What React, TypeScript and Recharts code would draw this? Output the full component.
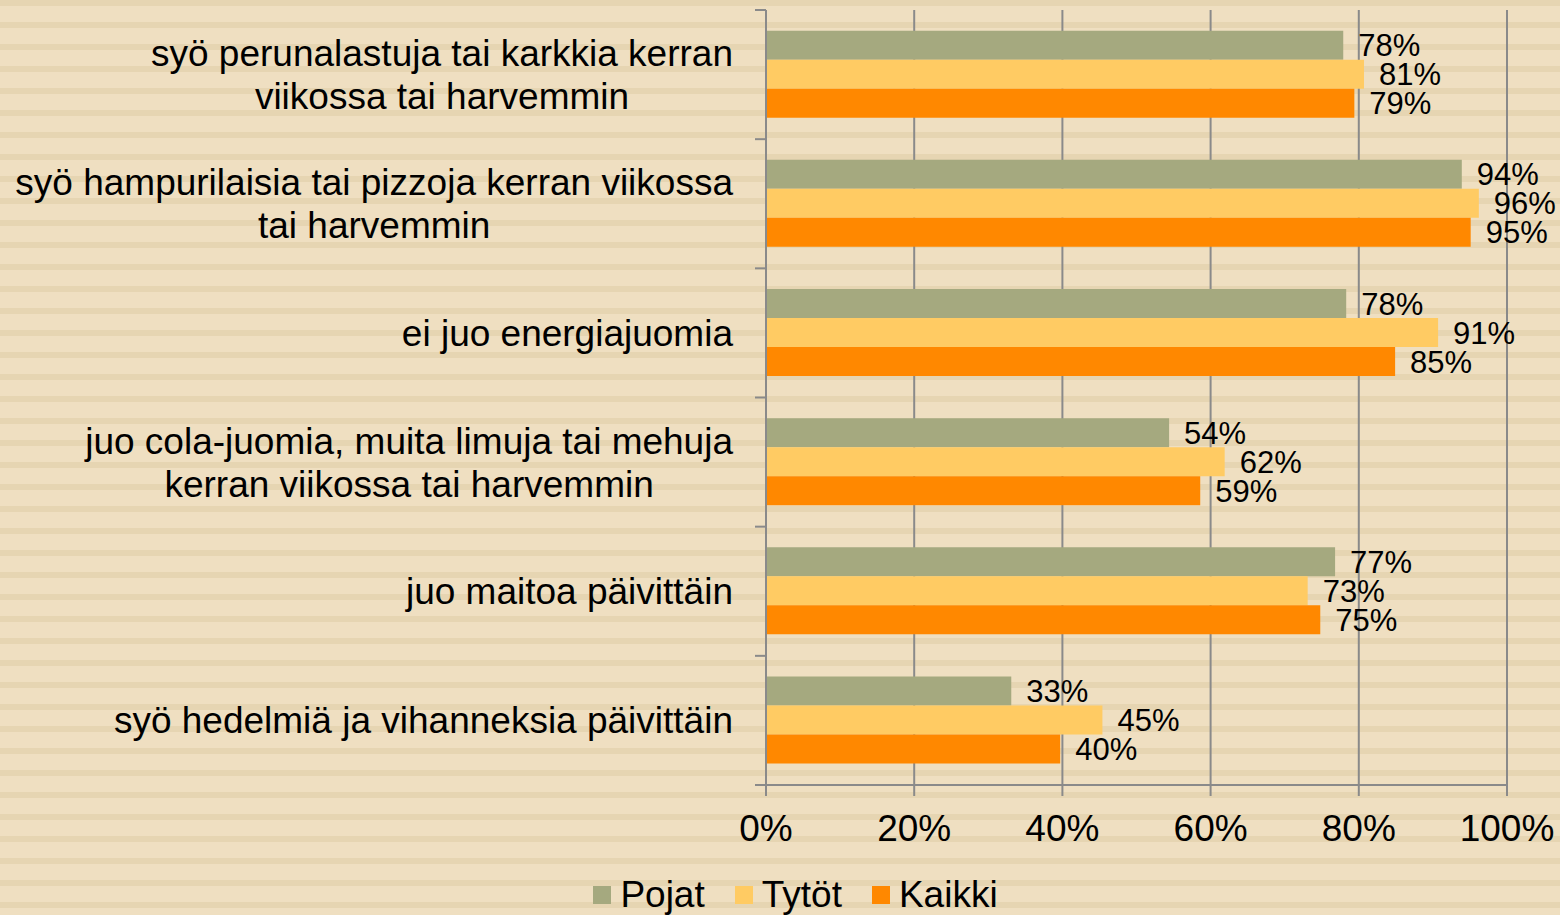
import React from "react";
import {
  BarChart,
  Bar,
  XAxis,
  YAxis,
  CartesianGrid,
  Legend,
  LabelList
} from "recharts";

const categories = [
  "syö perunalastuja tai karkkia kerran\nviikossa tai harvemmin",
  "syö hampurilaisia tai pizzoja kerran viikossa\ntai harvemmin",
  "ei juo energiajuomia",
  "juo cola-juomia, muita limuja tai mehuja\nkerran viikossa tai harvemmin",
  "juo maitoa päivittäin",
  "syö hedelmiä ja vihanneksia päivittäin"
];

const pojat = [77.9, 93.9, 78.3, 54.4, 76.8, 33.1];
const tytot = [80.7, 96.2, 90.7, 61.9, 73.1, 45.4];
const kaikki = [79.4, 95.1, 84.9, 58.6, 74.8, 39.7];

const xTicks = [0, 20, 40, 60, 80, 100];

const series = [
  { key: "pojat", name: "Pojat", color: "#A5A97F" },
  { key: "tytot", name: "Tytöt", color: "#FFCB63" },
  { key: "kaikki", name: "Kaikki", color: "#FF8800" }
];

const data = categories.map((c, i) => ({
  name: c,
  pojat: pojat[i],
  tytot: tytot[i],
  kaikki: kaikki[i]
}));

const W = 1560;
const H = 915;
const FONT = "'Liberation Sans', Arial, sans-serif";
const AXIS = "#8A8A8A";
const margin = { top: 10, right: 53, left: 0, bottom: 0 };
const X_AXIS_H = 90;
const LEGEND_H = 40;
const plotH = H - margin.top - margin.bottom - X_AXIS_H - LEGEND_H;
const band = plotH / categories.length;

let canvasCtx: CanvasRenderingContext2D | null = null;
const measure = (s: string) => {
  if (!canvasCtx) {
    canvasCtx = document.createElement("canvas").getContext("2d");
  }
  if (!canvasCtx) return s.length * 18;
  canvasCtx.font = `37px ${FONT}`;
  return canvasCtx.measureText(s).width;
};

const YTick = (props: any) => {
  const { x, y, payload, index } = props;
  const lines = String(payload.value).split("\n");
  const widest = Math.max(...lines.map(measure));
  const cx = x - widest / 2;
  const lh = 43;
  const startY = y - ((lines.length - 1) * lh) / 2;
  const axisX = x + 33;
  return (
    <g>
      <line x1={axisX - 11} x2={axisX} y1={y - band / 2} y2={y - band / 2} stroke={AXIS} strokeWidth={2} />
      {index === categories.length - 1 && (
        <line x1={axisX - 11} x2={axisX} y1={y + band / 2} y2={y + band / 2} stroke={AXIS} strokeWidth={2} />
      )}
      {lines.map((l, i) => (
        <text
          key={i}
          x={lines.length > 1 ? cx : x}
          y={startY + i * lh}
          dy="0.35em"
          textAnchor={lines.length > 1 ? "middle" : "end"}
          fontSize={37}
          fontFamily={FONT}
          fill="#000"
        >
          {l}
        </text>
      ))}
    </g>
  );
};

const renderLegend = () => (
  <div
    style={{
      height: LEGEND_H,
      display: "flex",
      justifyContent: "center",
      alignItems: "center",
      paddingLeft: 84,
      fontFamily: FONT,
      fontSize: 37,
      color: "#000"
    }}
  >
    {series.map((s) => (
      <div key={s.key} style={{ display: "flex", alignItems: "center", margin: "0 15px" }}>
        <span style={{ width: 18, height: 18, background: s.color, marginRight: 9, display: "inline-block" }} />
        <span>{s.name}</span>
      </div>
    ))}
  </div>
);

const App = () => {
  return (
    <div
      style={{
        position: "absolute",
        left: 0,
        top: 0,
        width: W,
        height: H,
        background:
          "repeating-linear-gradient(to bottom, #E6D5B2 0px, #E6D5B2 6px, #EFDFC1 6px, #EFDFC1 22px)"
      }}
    >
      <BarChart
        width={W}
        height={H}
        data={data}
        layout="vertical"
        margin={margin}
        barGap={0}
        barCategoryGap="16%"
      >
        <CartesianGrid horizontal={false} stroke={AXIS} strokeWidth={2} />
        <XAxis
          type="number"
          domain={[0, 100]}
          ticks={xTicks}
          tickFormatter={(v: number) => `${v}%`}
          tickSize={11}
          tickMargin={19}
          height={X_AXIS_H}
          stroke={AXIS}
          strokeWidth={2}
          tick={{ fill: "#000", fontSize: 37, fontFamily: FONT }}
        />
        <YAxis
          type="category"
          dataKey="name"
          width={766}
          tickSize={11}
          tickMargin={22}
          tickLine={false}
          stroke={AXIS}
          strokeWidth={2}
          interval={0}
          tick={<YTick />}
        />
        <Legend verticalAlign="bottom" height={LEGEND_H} content={renderLegend} />
        {series.map((s) => (
          <Bar key={s.key} dataKey={s.key} name={s.name} fill={s.color} isAnimationActive={false}>
            <LabelList
              dataKey={s.key}
              position="right"
              offset={15}
              formatter={(v: any) => `${Math.round(Number(v))}%`}
              fill="#000"
              fontSize={31}
              fontFamily={FONT}
            />
          </Bar>
        ))}
      </BarChart>
    </div>
  );
};

export default App;
